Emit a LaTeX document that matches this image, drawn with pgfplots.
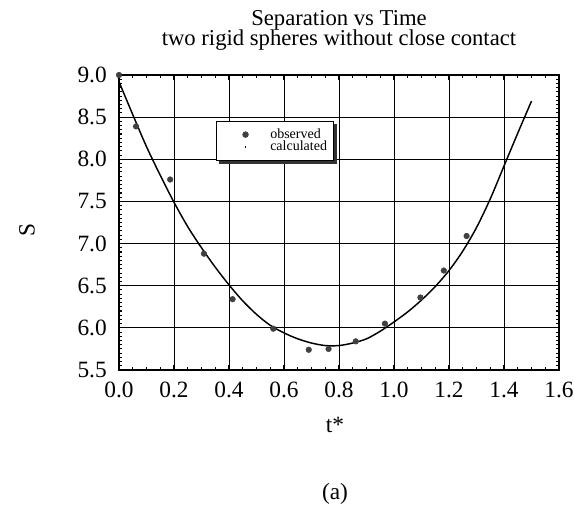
\documentclass[border=0pt]{standalone}
\usepackage{fontspec}
\setmainfont{Liberation Serif}
\usepackage{pgfplots}
\pgfplotsset{compat=1.18}

\pgfplotstableread{
t S
0.000 9.00
0.062 8.39
0.186 7.76
0.309 6.88
0.413 6.34
0.561 5.99
0.690 5.74
0.762 5.75
0.861 5.84
0.967 6.05
1.096 6.36
1.181 6.68
1.264 7.09
}\observed

\pgfplotstableread{
t S
0.00 8.92
0.05 8.53
0.10 8.15
0.15 7.81
0.20 7.49
0.25 7.20
0.30 6.95
0.35 6.72
0.40 6.51
0.45 6.32
0.50 6.16
0.55 6.03
0.60 5.94
0.65 5.87
0.70 5.82
0.75 5.79
0.80 5.79
0.85 5.82
0.90 5.87
0.95 5.96
1.00 6.07
1.05 6.19
1.10 6.33
1.15 6.49
1.20 6.68
1.25 6.91
1.30 7.19
1.35 7.53
1.40 7.92
1.45 8.31
1.50 8.69
}\calculated

\begin{document}
\begin{tikzpicture}
\begin{axis}[
  name=ax,
  scale only axis,
  width=330pt, height=221.25pt,
  xmin=0, xmax=1.6, ymin=5.5, ymax=9.0,
  xtick={0,0.2,0.4,0.6,0.8,1.0,1.2,1.4,1.6},
  ytick={5.5,6.0,6.5,7.0,7.5,8.0,8.5,9.0},
  minor x tick num=3, minor y tick num=9,
  tick align=inside,
  major tick length=4pt, minor tick length=2.5pt,
  tick style={black, line width=0.8pt},
  grid=major,
  major grid style={black, line width=0.6pt},
  axis line style={black, line width=1.2pt},
  /pgf/number format/assume math mode=true,
  ticklabel style={font=\fontsize{17.5}{17.5}\selectfont, inner sep=0pt,
    /pgf/number format/fixed, /pgf/number format/fixed zerofill,
    /pgf/number format/precision=1},
  xticklabel style={yshift=-8.6pt},
  yticklabel style={xshift=-9pt},
  xlabel={t*},
  ylabel={S},
  every axis x label/.style={at={(axis description cs:0.491,-0.1864)}, anchor=center,
    font=\fontsize{17.5}{17.5}\selectfont},
  every axis y label/.style={at={(axis description cs:-0.209,0.473)}, anchor=center, rotate=90,
    font=\fontsize{17.5}{17.5}\selectfont},
  legend cell align=left,
  legend style={
    name=leg,
    at={(axis description cs:0.2206,0.844)}, anchor=north west,
    draw=black, line width=0.6pt, fill=white,
    font=\fontsize{10.5}{10.5}\selectfont,
    inner xsep=4pt, inner ysep=5pt,
    nodes={inner sep=0.5pt, text depth=0.15em},
    row sep=-0.5pt,
  },
]
\addplot[only marks, mark=*, mark size=2.1pt, color=black!75,
  legend image code/.code={\path (-17.25pt,0pt) (17.5pt,0pt);
    \draw[black!75, fill=black!75] plot[mark=*, mark size=2.1pt] coordinates {(0pt,0pt)};}]
  table[x=t, y=S] {\observed};
\addlegendentry{observed}
\addplot[no marks, smooth, black, line width=1.1pt,
  legend image code/.code={\path (-17.25pt,0pt) (17.5pt,0pt);
    \draw[black, line width=1.2pt] (-0.5pt,0pt) -- (0.5pt,0pt);}]
  table[x=t, y=S] {\calculated};
\addlegendentry{calculated}
\end{axis}
% drop shadow of the legend box (right and bottom strips)
\fill[black!80] ([shift={(0.3pt,-2.4pt)}]leg.north east) rectangle ([shift={(2.4pt,-2.4pt)}]leg.south east);
\fill[black!80] ([shift={(2.4pt,-0.3pt)}]leg.south west) rectangle ([shift={(2.4pt,-2.4pt)}]leg.south east);
\node[anchor=base, inner sep=0pt, font=\fontsize{17}{17}\selectfont] at ([yshift=37.25pt]ax.north) {Separation vs Time};
\node[anchor=base, inner sep=0pt, font=\fontsize{17}{17}\selectfont] at ([yshift=21.75pt]ax.north) {two rigid spheres without close contact};
\node[anchor=center, inner sep=0pt, font=\fontsize{17.5}{17.5}\selectfont] at ([xshift=-3pt,yshift=-93pt]ax.south) {(a)};
\path ([shift={(-89.25pt,-102pt)}]ax.south west) rectangle ([shift={(11.25pt,56.25pt)}]ax.north east);
\end{tikzpicture}
\end{document}
